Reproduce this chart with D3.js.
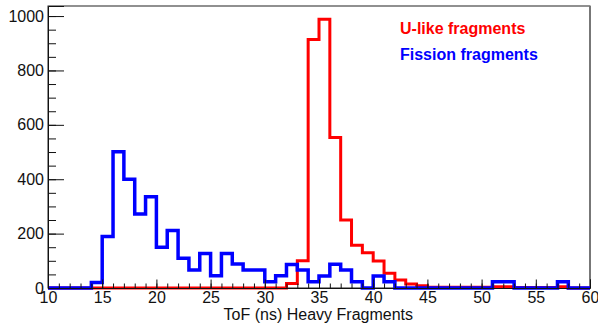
<!DOCTYPE html>
<html>
<head>
<meta charset="utf-8">
<script src="https://cdn.jsdelivr.net/npm/d3@7"></script>
<style>
  body { margin: 0; background: #fff; }
  svg { display: block; font-family: "Liberation Sans", Arial, sans-serif; }
</style>
</head>
<body>
<svg id="chart" width="598" height="328"></svg>
<script>
// bin edges 10..60 ns, 1 ns wide
const binStart = 10;
const binWidth = 1;

const uLikeCounts = [
  0, 0, 0, 0, 0, 0, 0, 0, 0, 0,          // 10-19
  0, 0, 0, 0, 0, 0, 0, 0, 0, 0,          // 20-29
  0, 0, 17, 100, 914, 988, 553, 250, 157, 130, // 30-39
  99, 54, 29, 15, 8, 3, 3, 3, 3, 3,      // 40-49
  3, 5, 5, 2, 2, 2, 2, 5, 0, 0           // 50-59
];

const fissionCounts = [
  0, 0, 0, 0, 20, 189, 501, 400, 272, 336, // 10-19
  150, 211, 109, 66, 127, 45, 127, 88, 66, 66, // 20-29
  23, 45, 86, 66, 23, 44, 87, 66, 23, 0,  // 30-39
  44, 23, 0, 0, 0, 0, 0, 0, 0, 0,        // 40-49
  0, 23, 23, 0, 0, 0, 0, 23, 0, 0        // 50-59
];

const legendLabels = ["U-like fragments", "Fission fragments"];
const seriesColors = ["#ff0000", "#0000ff"];
const xTitle = "ToF (ns) Heavy Fragments";

const svg = d3.select("#chart");
const margin = { left: 48, right: 8, top: 6, bottom: 40 };
const W = 598, H = 328;

const x = d3.scaleLinear().domain([10, 60]).range([margin.left, W - margin.right]);
const y = d3.scaleLinear().domain([0, 1037]).range([H - margin.bottom, margin.top]);

// frame
svg.append("rect")
  .attr("x", x(10)).attr("y", y(1037))
  .attr("width", x(60) - x(10)).attr("height", y(0) - y(1037))
  .attr("fill", "none").attr("stroke", "#222").attr("stroke-width", 1);
svg.append("line")
  .attr("x1", x(60)).attr("x2", x(60)).attr("y1", y(1037)).attr("y2", y(0))
  .attr("stroke", "#777").attr("stroke-width", 2);

function stepPoints(counts) {
  const pts = counts.map((v, i) => [binStart + i * binWidth, v]);
  pts.push([binStart + counts.length * binWidth, counts[counts.length - 1]]);
  return pts;
}

const line = d3.line()
  .x(d => x(d[0]))
  .y(d => y(d[1]))
  .curve(d3.curveStepAfter);

svg.append("path")
  .attr("d", line(stepPoints(uLikeCounts)))
  .attr("fill", "none")
  .attr("stroke", seriesColors[0])
  .attr("stroke-width", 3);

svg.append("path")
  .attr("d", line(stepPoints(fissionCounts)))
  .attr("fill", "none")
  .attr("stroke", seriesColors[1])
  .attr("stroke-width", 3.5);

// y axis, ticks pointing inward
const yMinor = svg.append("g")
  .attr("transform", `translate(${margin.left},0)`)
  .call(d3.axisLeft(y).tickValues(d3.range(0, 1001, 50)).tickSize(-8).tickFormat(""));
yMinor.select(".domain").remove();

const yMajor = svg.append("g")
  .attr("transform", `translate(${margin.left},0)`)
  .call(d3.axisLeft(y).tickValues(d3.range(0, 1001, 200)).tickSize(-16).tickPadding(4).tickFormat(d3.format("d")));
yMajor.selectAll("text").style("font-size", "16px").attr("fill", "#111");

// x axis, ticks pointing up
const xMinor = svg.append("g")
  .attr("transform", `translate(0,${H - margin.bottom})`)
  .call(d3.axisBottom(x).tickValues(d3.range(10, 61, 1)).tickSize(-4.5).tickFormat(""));
xMinor.select(".domain").remove();

const xMajor = svg.append("g")
  .attr("transform", `translate(0,${H - margin.bottom})`)
  .call(d3.axisBottom(x).tickValues(d3.range(10, 61, 5)).tickSize(-8.5).tickPadding(4));
xMajor.selectAll("text").style("font-size", "16px").attr("fill", "#111");

svg.selectAll(".domain").attr("stroke", "#111");
svg.selectAll(".tick line").attr("stroke", "#111");

svg.append("text")
  .attr("x", 413).attr("y", 320)
  .attr("text-anchor", "end")
  .style("font-size", "16px")
  .attr("fill", "#111")
  .text(xTitle);

// legend
svg.selectAll(".legend")
  .data(legendLabels)
  .enter()
  .append("text")
  .attr("class", "legend")
  .attr("x", 400)
  .attr("y", (d, i) => 34 + i * 26)
  .attr("fill", (d, i) => seriesColors[i])
  .style("font-size", "16px")
  .style("font-weight", "bold")
  .text(d => d);
</script>
</body>
</html>
